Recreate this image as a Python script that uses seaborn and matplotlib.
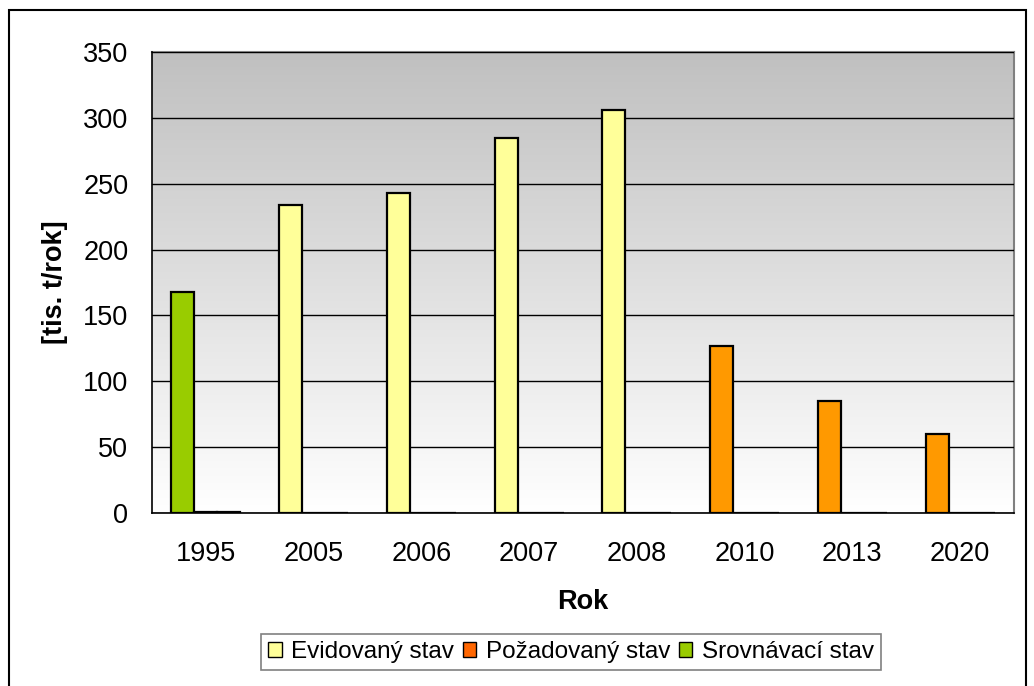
import numpy as np
import pandas as pd
import matplotlib
matplotlib.use("Agg")
import matplotlib.pyplot as plt
from matplotlib.colors import LinearSegmentedColormap
from matplotlib.patches import Patch, Rectangle
import seaborn as sns

# data
roky = ["1995", "2005", "2006", "2007", "2008", "2010", "2013", "2020"]
hodnoty = [168, 234, 243, 285, 306, 127, 85, 60]
stavy = ["Srovnávací stav", "Evidovaný stav", "Evidovaný stav", "Evidovaný stav",
         "Evidovaný stav", "Požadovaný stav", "Požadovaný stav", "Požadovaný stav"]
# the two nearly empty bars next to 1995
vedlejsi_1 = [1, 0, 0, 0, 0, 0, 0, 0]
vedlejsi_2 = [1, 0, 0, 0, 0, 0, 0, 0]

barvy_sloupcu = {"Evidovaný stav": "#FFFF99", "Požadovaný stav": "#FF9900", "Srovnávací stav": "#99CC00"}
barvy_legendy = {"Evidovaný stav": "#FFFF99", "Požadovaný stav": "#FF6600", "Srovnávací stav": "#99CC00"}
poradi_legendy = ["Evidovaný stav", "Požadovaný stav", "Srovnávací stav"]

df = pd.DataFrame({
    "Rok": roky * 3,
    "hodnota": hodnoty + vedlejsi_1 + vedlejsi_2,
    "slot": ["a"] * 8 + ["b"] * 8 + ["c"] * 8,
})

sns.set_style("white")
plt.rcParams["font.family"] = ["Liberation Sans", "DejaVu Sans"]
plt.rcParams["text.color"] = "black"
plt.rcParams["axes.labelcolor"] = "black"
plt.rcParams["xtick.color"] = "black"
plt.rcParams["ytick.color"] = "black"

fig = plt.figure(figsize=(10.34, 6.86), dpi=100)
ax = fig.add_axes([152 / 1034, 1 - 513 / 686, 862 / 1034, 461 / 686])

sns.barplot(data=df, x="Rok", y="hodnota", hue="slot", ax=ax, width=0.64, gap=0,
            palette={"a": "#FFFF99", "b": "#FFFF99", "c": "#FF9900"},
            edgecolor="black", linewidth=1.6, legend=False, zorder=3)

# recolor the main bars by status
for bar, st in zip(ax.containers[0], stavy):
    bar.set_facecolor(barvy_sloupcu[st])

# gray -> white background gradient
cmap = LinearSegmentedColormap.from_list("bg", ["#FFFFFF", "#C0C0C0"])
grad = np.linspace(0, 1, 256).reshape(-1, 1)
ax.imshow(grad, cmap=cmap, extent=[-0.5, 7.5, 0, 350], aspect="auto",
          origin="lower", zorder=0, interpolation="bilinear")

ax.set_xlim(-0.5, 7.5)
ax.set_ylim(0, 350)
ax.set_yticks(range(0, 351, 50))
ax.yaxis.grid(True, color="black", linewidth=1.0)
ax.set_axisbelow(False)
for gl in ax.get_ygridlines():
    gl.set_zorder(1)

ax.set_xticks(np.arange(-0.5, 8, 1), minor=True)
ax.tick_params(axis="x", which="major", length=0, pad=20, labelsize=19.5, labelcolor="black")
ax.tick_params(axis="x", which="minor", length=8, width=1, color="black", direction="out")
ax.tick_params(axis="y", length=7, width=1, color="black", direction="out", pad=10,
               labelsize=19.5, labelcolor="black")

for s in ["left", "bottom"]:
    ax.spines[s].set_color("black")
    ax.spines[s].set_linewidth(1.2)
for s in ["top", "right"]:
    ax.spines[s].set_color("#808080")
    ax.spines[s].set_linewidth(1.5)
ax.spines["left"].set_zorder(5)
ax.spines["bottom"].set_zorder(5)

ax.set_xlabel("Rok", fontsize=19.5, fontweight="bold", color="black")
ax.set_ylabel("[tis. t/rok]", fontsize=19.5, fontweight="bold", color="black")
ax.xaxis.set_label_coords(0.5, -0.165)
ax.yaxis.set_label_coords(-0.097, 0.5)

handles = [Patch(facecolor=barvy_legendy[s], edgecolor="black", linewidth=1.0) for s in poradi_legendy]
leg = fig.legend(handles, poradi_legendy, loc="center", bbox_to_anchor=(571 / 1034, 1 - 652 / 686),
                 ncol=3, fontsize=17.5, frameon=True, fancybox=False, handlelength=0.55,
                 handleheight=0.55, handletextpad=0.4, columnspacing=0.35, borderpad=0.3,
                 borderaxespad=0)
leg.get_frame().set_edgecolor("#606060")
leg.get_frame().set_linewidth(1.2)

# outer chart border
fig.add_artist(Rectangle((9 / 1034, -0.01), 1017 / 1034, 1 - 10 / 686 + 0.01,
                         transform=fig.transFigure, fill=False, edgecolor="black", linewidth=1.5))

fig.savefig("out.png", dpi=100)
